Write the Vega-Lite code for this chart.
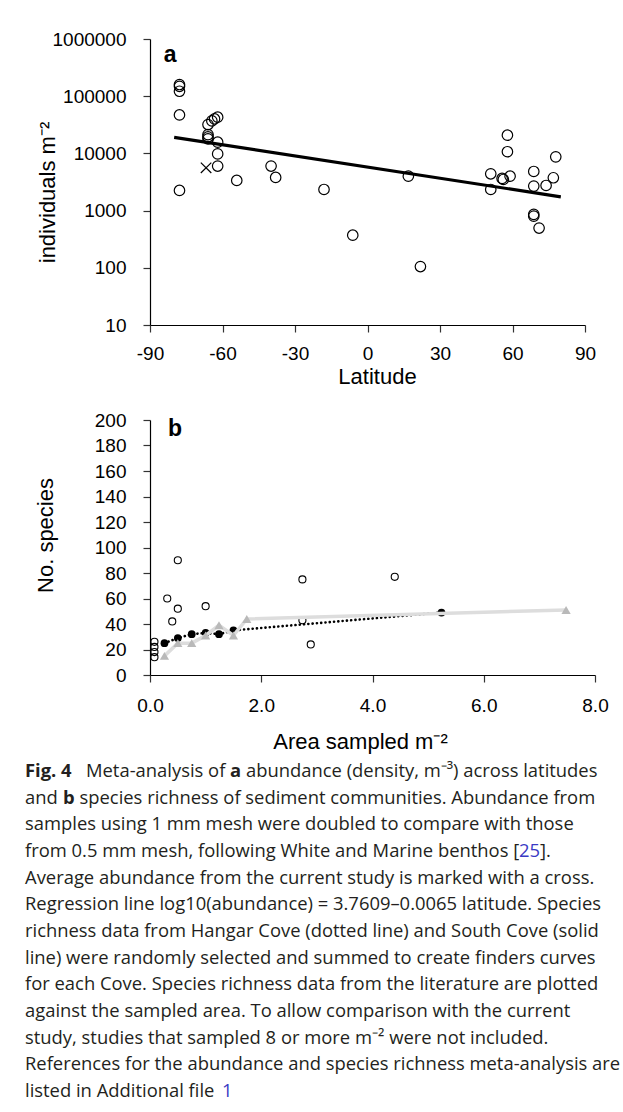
{
  "$schema": "https://vega.github.io/schema/vega-lite/v6.json",
  "padding": {"left": 25, "top": 30, "right": 5, "bottom": 5},
  "autosize": {"type": "pad"},
  "bounds": "flush",
  "spacing": 95,
  "config": {
    "view": {"stroke": null},
    "axis": {
      "labelFont": "Liberation Sans", "titleFont": "Liberation Sans",
      "labelFontSize": 19, "titleFontSize": 22, "titleFontWeight": "normal",
      "labelColor": "#000", "titleColor": "#000",
      "domainColor": "#000", "domainWidth": 1.2, "tickColor": "#333", "tickWidth": 1.2, "tickSize": 7,
      "grid": false, "labelFlush": false, "labelOverlap": false
    }
  },
  "datasets": {
    "abundance": [
      {"lat": -77.8, "abund": 160000}, {"lat": -77.8, "abund": 149000}, {"lat": -77.8, "abund": 122000},
      {"lat": -77.8, "abund": 47000}, {"lat": -77.8, "abund": 2250},
      {"lat": -66.0, "abund": 31900}, {"lat": -64.4, "abund": 37000}, {"lat": -63.3, "abund": 40000},
      {"lat": -62.0, "abund": 43000}, {"lat": -66.0, "abund": 21300}, {"lat": -66.0, "abund": 19500},
      {"lat": -66.0, "abund": 18000}, {"lat": -62.0, "abund": 15700}, {"lat": -62.0, "abund": 9800},
      {"lat": -62.0, "abund": 6000}, {"lat": -54.1, "abund": 3370}, {"lat": -39.9, "abund": 6000},
      {"lat": -38.0, "abund": 3800}, {"lat": -18.0, "abund": 2340}, {"lat": -6.1, "abund": 372},
      {"lat": 16.9, "abund": 4000}, {"lat": 21.9, "abund": 105},
      {"lat": 51.0, "abund": 4400}, {"lat": 51.0, "abund": 2340}, {"lat": 55.7, "abund": 3650},
      {"lat": 56.2, "abund": 3500}, {"lat": 59.0, "abund": 4000}, {"lat": 57.9, "abund": 20800},
      {"lat": 57.9, "abund": 10700}, {"lat": 68.8, "abund": 4830}, {"lat": 68.8, "abund": 2680},
      {"lat": 68.8, "abund": 860}, {"lat": 68.8, "abund": 800}, {"lat": 71.0, "abund": 495},
      {"lat": 73.9, "abund": 2750}, {"lat": 76.9, "abund": 3750}, {"lat": 77.9, "abund": 8700}
    ],
    "current": [{"lat": -66.8, "abund": 5600}],
    "regression": [{"lat": -80, "abund": 19100}, {"lat": 80, "abund": 1741}],
    "labelA": [{"lat": -81.7, "abund": 532000, "label": "a"}],
    "literature": [
      {"area": 0.5, "species": 90}, {"area": 0.31, "species": 60}, {"area": 0.5, "species": 52},
      {"area": 0.4, "species": 42}, {"area": 1.0, "species": 54}, {"area": 0.08, "species": 26},
      {"area": 0.08, "species": 22}, {"area": 0.08, "species": 18}, {"area": 0.08, "species": 14},
      {"area": 2.74, "species": 75}, {"area": 2.74, "species": 43}, {"area": 2.89, "species": 24},
      {"area": 4.4, "species": 77}
    ],
    "hangar": [
      {"area": 0.26, "species": 25}, {"area": 0.5, "species": 29}, {"area": 0.75, "species": 32},
      {"area": 1.0, "species": 33}, {"area": 1.24, "species": 32}, {"area": 1.5, "species": 35},
      {"area": 5.24, "species": 49}
    ],
    "south": [
      {"area": 0.26, "species": 15}, {"area": 0.5, "species": 25}, {"area": 0.75, "species": 25},
      {"area": 1.0, "species": 31}, {"area": 1.24, "species": 39}, {"area": 1.5, "species": 31},
      {"area": 1.74, "species": 44}, {"area": 7.48, "species": 51}
    ],
    "labelB": [{"area": 0.45, "species": 193, "label": "b"}],
    "caption": [
      {"line": 1, "seg": "fig", "t": "Fig. 4"},
      {"line": 1, "seg": "l1a", "t": "Meta-analysis of"},
      {"line": 1, "seg": "l1b", "t": "a"},
      {"line": 1, "seg": "l1c", "t": "abundance (density, m⁻³) across latitudes"},
      {"line": 2, "seg": "r", "t": "and"},
      {"line": 2, "seg": "l2b", "t": "b"},
      {"line": 2, "seg": "l2c", "t": "species richness of sediment communities. Abundance from"},
      {"line": 3, "seg": "r", "t": "samples using 1 mm mesh were doubled to compare with those"},
      {"line": 4, "seg": "r", "t": "from 0.5 mm mesh, following White and Marine benthos ["},
      {"line": 4, "seg": "l4b", "t": "25"},
      {"line": 4, "seg": "l4c", "t": "]."},
      {"line": 5, "seg": "r", "t": "Average abundance from the current study is marked with a cross."},
      {"line": 6, "seg": "r", "t": "Regression line log10(abundance) = 3.7609–0.0065 latitude. Species"},
      {"line": 7, "seg": "r", "t": "richness data from Hangar Cove (dotted line) and South Cove (solid"},
      {"line": 8, "seg": "r", "t": "line) were randomly selected and summed to create finders curves"},
      {"line": 9, "seg": "r", "t": "for each Cove. Species richness data from the literature are plotted"},
      {"line": 10, "seg": "r", "t": "against the sampled area. To allow comparison with the current"},
      {"line": 11, "seg": "r", "t": "study, studies that sampled 8 or more m⁻² were not included."},
      {"line": 12, "seg": "r", "t": "References for the abundance and species richness meta-analysis are"},
      {"line": 13, "seg": "r", "t": "listed in Additional file"},
      {"line": 13, "seg": "l13b", "t": "1"}
    ]
  },
  "vconcat": [
    {
      "width": 435,
      "height": 286,
      "encoding": {
        "x": {"field": "lat", "type": "quantitative",
          "scale": {"domain": [-90, 90], "nice": false},
          "axis": {"values": [-90, -60, -30, 0, 30, 60, 90], "labelExpr": "replace(datum.label, '−', '-')", "title": "Latitude", "labelPadding": 12,
            "titleX": 227, "titleY": 58, "titleBaseline": "alphabetic", "titleAlign": "center"}},
        "y": {"field": "abund", "type": "quantitative",
          "scale": {"type": "log", "domain": [10, 1000000], "nice": false},
          "axis": {"values": [10, 100, 1000, 10000, 100000, 1000000], "format": "d", "title": "individuals m⁻²",
            "labelPadding": 17, "titleX": -103, "titleY": 153, "titleBaseline": "middle", "titleAlign": "center", "titleAngle": -90}}
      },
      "layer": [
        {"data": {"name": "abundance"},
         "mark": {"type": "point", "shape": "circle", "filled": false, "stroke": "#000", "strokeWidth": 1.2, "size": 110, "opacity": 1}},
        {"data": {"name": "current"},
         "mark": {"type": "point", "shape": "M-1,-1L1,1M-1,1L1,-1", "filled": false, "stroke": "#000", "strokeWidth": 1.2, "size": 110, "opacity": 1}},
        {"data": {"name": "regression"},
         "mark": {"type": "line", "color": "#000", "strokeWidth": 3.2}},
        {"data": {"name": "labelA"},
         "mark": {"type": "text", "font": "Liberation Sans", "fontWeight": "bold", "fontSize": 23, "align": "center", "baseline": "middle", "color": "#000"},
         "encoding": {"text": {"field": "label"}}}
      ]
    },
    {
      "width": 445,
      "height": 255,
      "encoding": {
        "x": {"field": "area", "type": "quantitative",
          "scale": {"domain": [0, 8], "nice": false},
          "axis": {"values": [0, 2, 4, 6, 8], "format": ".1f", "title": "Area sampled m⁻²", "labelPadding": 14,
            "titleX": 210, "titleY": 73, "titleBaseline": "alphabetic", "titleAlign": "center"}},
        "y": {"field": "species", "type": "quantitative",
          "scale": {"domain": [0, 200], "nice": false},
          "axis": {"values": [0, 20, 40, 60, 80, 100, 120, 140, 160, 180, 200], "title": "No. species",
            "labelPadding": 17, "titleX": -105, "titleY": 115, "titleBaseline": "middle", "titleAlign": "center", "titleAngle": -90}}
      },
      "layer": [
        {"data": {"name": "literature"},
         "mark": {"type": "point", "shape": "circle", "filled": false, "stroke": "#000", "strokeWidth": 1.1, "size": 50, "opacity": 1}},
        {"data": {"name": "hangar"},
         "mark": {"type": "line", "color": "#000", "strokeWidth": 2.6, "strokeDash": [0.1, 4.2], "strokeCap": "round"}},
        {"data": {"name": "hangar"},
         "mark": {"type": "point", "shape": "circle", "filled": true, "color": "#000", "size": 60, "opacity": 1}},
        {"data": {"name": "south"},
         "mark": {"type": "line", "color": "#dddddd", "strokeWidth": 3.5}},
        {"data": {"name": "south"},
         "mark": {"type": "point", "shape": "triangle-up", "filled": true, "color": "#b9b9b9", "size": 85, "opacity": 1}},
        {"data": {"name": "labelB"},
         "mark": {"type": "text", "font": "Liberation Sans", "fontWeight": "bold", "fontSize": 23, "align": "center", "baseline": "middle", "color": "#000"},
         "encoding": {"text": {"field": "label"}}}
      ]
    },
    {
      "width": 445,
      "height": 327,
      "data": {"name": "caption"},
      "encoding": {
        "x": {"datum": 0, "type": "quantitative", "scale": {"domain": [0, 1]}, "axis": null},
        "y": {"field": "line", "type": "quantitative", "scale": {"domain": [0.74, 13], "reverse": true, "nice": false, "zero": false}, "axis": null},
        "text": {"field": "t"}
      },
      "layer": [
        {"transform": [{"filter": "datum.seg === 'r'"}],
         "mark": {"type": "text", "font": "Open Sans", "fontSize": 18.4, "align": "left", "baseline": "alphabetic", "color": "#231f20", "dx": -125}},
        {"transform": [{"filter": "datum.seg === 'fig'"}],
         "mark": {"type": "text", "font": "Open Sans", "fontWeight": "bold", "fontSize": 18.4, "align": "left", "baseline": "alphabetic", "color": "#231f20", "dx": -125}},
        {"transform": [{"filter": "datum.seg === 'l1a'"}],
         "mark": {"type": "text", "font": "Open Sans", "fontSize": 18.4, "align": "left", "baseline": "alphabetic", "color": "#231f20", "dx": -64}},
        {"transform": [{"filter": "datum.seg === 'l1b'"}],
         "mark": {"type": "text", "font": "Open Sans", "fontWeight": "bold", "fontSize": 18.4, "align": "left", "baseline": "alphabetic", "color": "#231f20", "dx": 80}},
        {"transform": [{"filter": "datum.seg === 'l1c'"}],
         "mark": {"type": "text", "font": "Open Sans", "fontSize": 18.4, "align": "left", "baseline": "alphabetic", "color": "#231f20", "dx": 96}},
        {"transform": [{"filter": "datum.seg === 'l2b'"}],
         "mark": {"type": "text", "font": "Open Sans", "fontWeight": "bold", "fontSize": 18.4, "align": "left", "baseline": "alphabetic", "color": "#231f20", "dx": -87}},
        {"transform": [{"filter": "datum.seg === 'l2c'"}],
         "mark": {"type": "text", "font": "Open Sans", "fontSize": 18.4, "align": "left", "baseline": "alphabetic", "color": "#231f20", "dx": -70.5}},
        {"transform": [{"filter": "datum.seg === 'l4b'"}],
         "mark": {"type": "text", "font": "Open Sans", "fontSize": 18.4, "align": "left", "baseline": "alphabetic", "color": "#3a3ac4", "dx": 369}},
        {"transform": [{"filter": "datum.seg === 'l4c'"}],
         "mark": {"type": "text", "font": "Open Sans", "fontSize": 18.4, "align": "left", "baseline": "alphabetic", "color": "#231f20", "dx": 390}},
        {"transform": [{"filter": "datum.seg === 'l13b'"}],
         "mark": {"type": "text", "font": "Open Sans", "fontSize": 18.4, "align": "left", "baseline": "alphabetic", "color": "#3a3ac4", "dx": 72}}
      ]
    }
  ]
}
